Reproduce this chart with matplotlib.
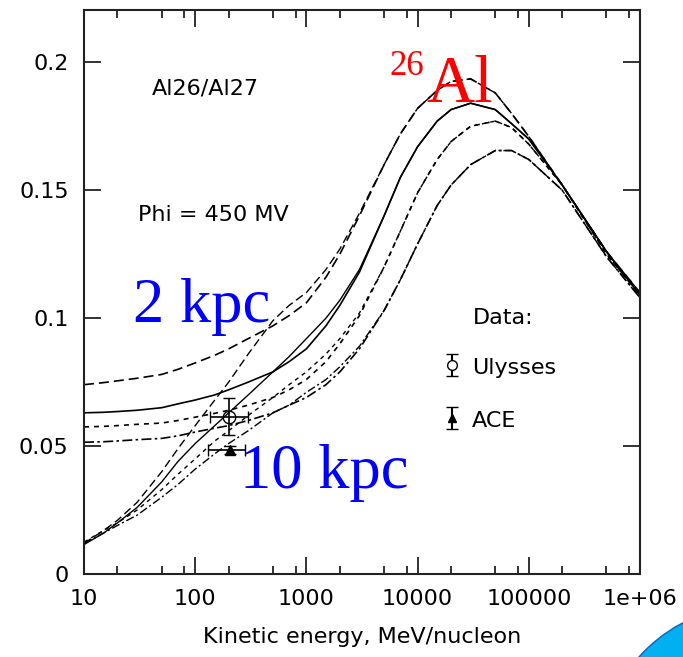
import numpy as np
import matplotlib
matplotlib.use("Agg")
import matplotlib.pyplot as plt
from matplotlib.ticker import LogLocator, NullFormatter
from matplotlib.patches import Ellipse

# kinetic energy grid, MeV/nucleon
energy = [10, 15, 20, 30, 50, 70, 100, 150, 200, 300, 500, 700, 1000, 1500,
          2000, 3000, 5000, 7000, 1e4, 1.5e4, 2e4, 3e4, 5e4, 7e4, 1e5, 2e5, 5e5, 1e6]

# modulated ratios (Phi = 450 MV), one per halo size
mod_2kpc = [0.074, 0.0748, 0.0755, 0.0765, 0.078, 0.080, 0.0825, 0.0855, 0.088, 0.092, 0.097, 0.101,
            0.106, 0.116, 0.125, 0.140, 0.160, 0.172, 0.182, 0.189, 0.1925, 0.1935, 0.188, 0.180,
            0.171, 0.152, 0.126, 0.110]
mod_b = [0.063, 0.0632, 0.0635, 0.064, 0.065, 0.0665, 0.068, 0.070, 0.072, 0.075, 0.079, 0.083,
         0.088, 0.097, 0.105, 0.118, 0.140, 0.155, 0.167, 0.177, 0.1815, 0.184, 0.1815, 0.176,
         0.170, 0.152, 0.126, 0.109]
mod_c = [0.0575, 0.0577, 0.058, 0.0585, 0.059, 0.060, 0.0613, 0.0628, 0.064, 0.066, 0.069, 0.072,
         0.076, 0.083, 0.090, 0.101, 0.120, 0.134, 0.149, 0.162, 0.169, 0.175, 0.177, 0.1745,
         0.168, 0.152, 0.125, 0.109]
mod_10kpc = [0.0515, 0.0517, 0.052, 0.0525, 0.053, 0.054, 0.0555, 0.057, 0.058, 0.060, 0.063, 0.066,
             0.069, 0.074, 0.079, 0.088, 0.103, 0.115, 0.129, 0.144, 0.152, 0.160, 0.1655, 0.1655,
             0.162, 0.150, 0.124, 0.108]

# interstellar (unmodulated) ratios
lis_2kpc = [0.012, 0.017, 0.021, 0.028, 0.040, 0.049, 0.058, 0.068, 0.075, 0.086, 0.099, 0.105,
            0.110, 0.119, 0.127, 0.141, 0.160, 0.172, 0.182, 0.189, 0.1925, 0.1935, 0.188, 0.180,
            0.171, 0.152, 0.126, 0.110]
lis_b = [0.0115, 0.016, 0.020, 0.026, 0.036, 0.044, 0.051, 0.058, 0.063, 0.070, 0.079, 0.085,
         0.092, 0.100, 0.107, 0.119, 0.140, 0.155, 0.167, 0.177, 0.1815, 0.184, 0.1815, 0.176,
         0.170, 0.152, 0.126, 0.109]
lis_c = [0.0125, 0.017, 0.020, 0.025, 0.033, 0.039, 0.045, 0.052, 0.056, 0.062, 0.069, 0.074,
         0.079, 0.086, 0.092, 0.102, 0.120, 0.134, 0.149, 0.162, 0.169, 0.175, 0.177, 0.1745,
         0.168, 0.152, 0.125, 0.109]
lis_10kpc = [0.012, 0.016, 0.019, 0.023, 0.030, 0.035, 0.041, 0.047, 0.051, 0.056, 0.063, 0.066,
             0.071, 0.076, 0.081, 0.089, 0.103, 0.115, 0.129, 0.144, 0.152, 0.160, 0.1655, 0.1655,
             0.162, 0.150, 0.124, 0.108]

# measurements
uly_e, uly_r = [200], [0.0615]
uly_xerr, uly_yerr = [[65], [97]], [0.0072]
ace_e, ace_r = [205], [0.0484]
ace_xerr, ace_yerr = [[75], [75]], [0.0016]

xtick_vals = [10, 100, 1000, 10000, 100000, 1e6]
xtick_labels = ["10", "100", "1000", "10000", "100000", "1e+06"]
ytick_vals = [0, 0.05, 0.1, 0.15, 0.2]
ytick_labels = ["0", "0.05", "0.1", "0.15", "0.2"]

plt.rcParams['font.family'] = ['DejaVu Sans']

fig = plt.figure(figsize=(6.83, 6.57), dpi=100)
ax = fig.add_axes([0.123, 0.1263, 0.814, 0.858])

styles = [(0, (6, 3)), '-', (0, (3, 3)), (0, (6, 2, 1.5, 2))]
for mod, lis, ls in zip([mod_2kpc, mod_b, mod_c, mod_10kpc],
                        [lis_2kpc, lis_b, lis_c, lis_10kpc], styles):
    ax.plot(energy, mod, color='black', lw=1.2, ls=ls)
    ax.plot(energy, lis, color='black', lw=1.0, ls=ls)

ax.errorbar(uly_e, uly_r, xerr=uly_xerr, yerr=uly_yerr, fmt='o', ms=9, mfc='none',
            mec='black', ecolor='black', elinewidth=1.2, capsize=4, zorder=5)
ax.errorbar(ace_e, ace_r, xerr=ace_xerr, yerr=ace_yerr, fmt='^', ms=7, mfc='black',
            mec='black', ecolor='black', elinewidth=1.2, capsize=4, zorder=5)

# legend proxies
h1 = ax.errorbar([np.nan], [np.nan], yerr=[1], fmt='o', ms=7, mfc='white', mec='black',
                 ecolor='black', capsize=4, label='Ulysses')
h2 = ax.errorbar([np.nan], [np.nan], yerr=[1], fmt='^', ms=6, mfc='black', mec='black',
                 ecolor='black', capsize=4, label='ACE')
ax.legend(handles=[h1, h2], loc='upper left', bbox_to_anchor=(0.642, 0.388), frameon=False,
          fontsize=16, handlelength=1.0, handletextpad=0.4, labelspacing=1.35,
          borderpad=0, borderaxespad=0, handleheight=1.2)

ax.set_xscale('log')
ax.set_xlim(10, 1e6)
ax.set_ylim(0, 0.2203)
ax.set_xticks(xtick_vals, labels=xtick_labels)
ax.set_yticks(ytick_vals, labels=ytick_labels)
ax.xaxis.set_minor_locator(LogLocator(base=10, subs=(2, 5, 8)))
ax.xaxis.set_minor_formatter(NullFormatter())
ax.tick_params(which='major', direction='in', length=12, width=1.3, top=True, right=True,
               labelsize=16, pad=11, color='#222222')
ax.tick_params(which='minor', direction='in', length=6, width=1.3, top=True, right=True,
               color='#222222')
for s in ax.spines.values():
    s.set_linewidth(1.5)
    s.set_color('#222222')
ax.set_xlabel("Kinetic energy, MeV/nucleon", fontsize=16, labelpad=13)

ax.text(0.122, 0.862, "Al26/Al27", transform=ax.transAxes, fontsize=16, va='center')
ax.text(0.097, 0.637, "Phi = 450 MV", transform=ax.transAxes, fontsize=16, va='center')
ax.text(0.70, 0.454, "Data:", transform=ax.transAxes, fontsize=16, va='center')

serif = ['Liberation Serif', 'DejaVu Serif']
ax.text(0.088, 0.447, "2 kpc", transform=ax.transAxes, fontsize=45, color='#0000ff',
        family=serif, va='baseline')
ax.text(0.281, 0.152, "10 kpc", transform=ax.transAxes, fontsize=45, color='#0000ff',
        family=serif, va='baseline')
ax.text(0.549, 0.885, "26", transform=ax.transAxes, fontsize=25, color='#ff0000',
        family=serif, va='baseline')
ax.text(0.615, 0.837, "Al", transform=ax.transAxes, fontsize=48, color='#ff0000',
        family=serif, va='baseline')

# slide decoration in the corner
fig.add_artist(Ellipse((1.105, -0.157), 0.454, 0.472, transform=fig.transFigure,
                       facecolor='#00b0f0', edgecolor='#1060c0', lw=1.0))

fig.savefig("out.png", dpi=100)
